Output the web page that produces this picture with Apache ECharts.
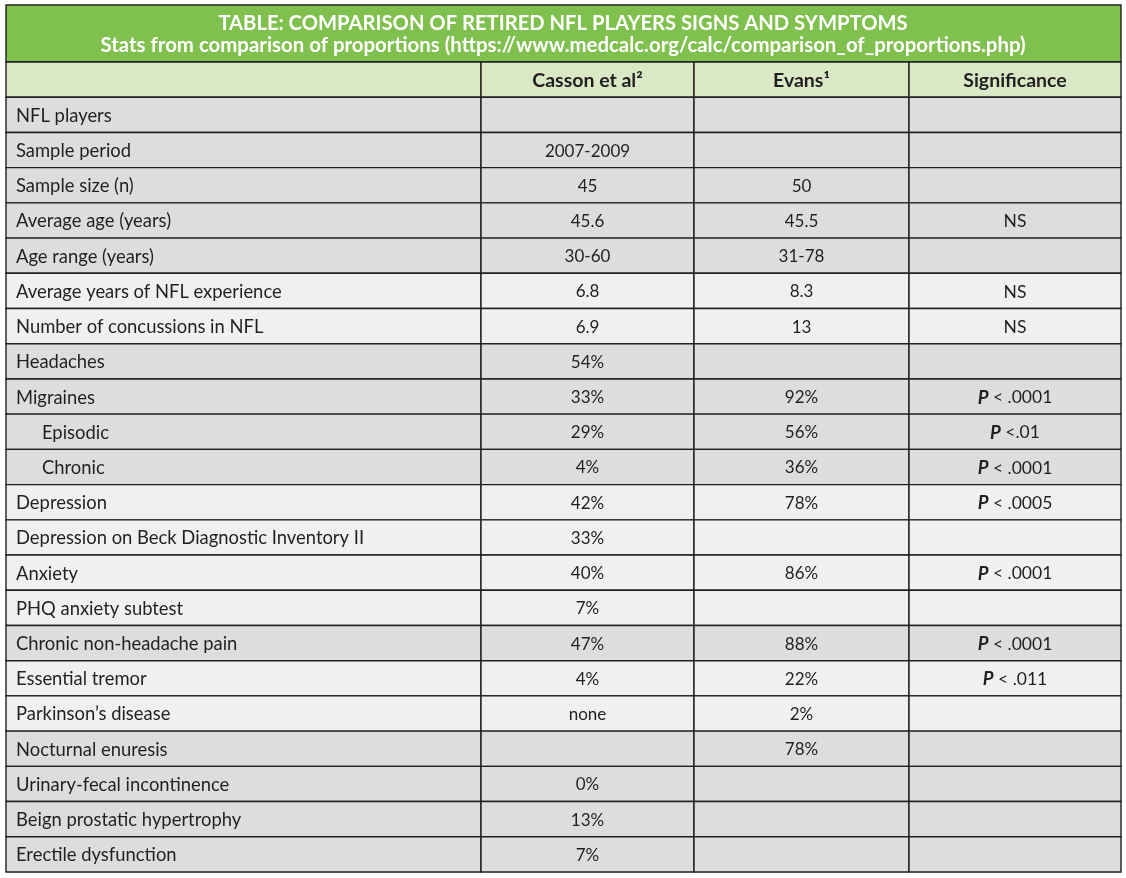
<!DOCTYPE html>
<html>
<head>
<meta charset="utf-8">
<script src="https://cdn.jsdelivr.net/npm/echarts@6/dist/echarts.min.js"></script>
<style>html,body{margin:0;padding:0;background:#fff;}#chart{width:1126px;height:878px;}</style>
</head>
<body>
<div id="chart"></div>
<script>
// ---- DATA ----
const titleText = 'TABLE: COMPARISON OF RETIRED NFL PLAYERS SIGNS AND SYMPTOMS';
const subtitleText = 'Stats from comparison of proportions (https://www.medcalc.org/calc/comparison_of_proportions.php)';
const columns = ['', 'Casson et al²', 'Evans¹', 'Significance'];
const rowLabels = [
  'NFL players', 'Sample period', 'Sample size (n)', 'Average age (years)', 'Age range (years)',
  'Average years of NFL experience', 'Number of concussions in NFL', 'Headaches', 'Migraines',
  'Episodic', 'Chronic', 'Depression', 'Depression on Beck Diagnostic Inventory II', 'Anxiety',
  'PHQ anxiety subtest', 'Chronic non-headache pain', 'Essential tremor', 'Parkinson\u2019s disease',
  'Nocturnal enuresis', 'Urinary-fecal incontinence', 'Beign prostatic hypertrophy', 'Erectile dysfunction'
];
const casson = ['', '2007-2009', '45', '45.6', '30-60', '6.8', '6.9', '54%', '33%', '29%', '4%', '42%', '33%', '40%', '7%', '47%', '4%', 'none', '', '0%', '13%', '7%'];
const evans = ['', '', '50', '45.5', '31-78', '8.3', '13', '', '92%', '56%', '36%', '78%', '', '86%', '', '88%', '22%', '2%', '78%', '', '', ''];
const significance = ['', '', '', 'NS', '', 'NS', 'NS', '', 'P < .0001', 'P <.01', 'P < .0001', 'P < .0005', '', 'P < .0001', '', 'P < .0001', 'P < .011', '', '', '', '', ''];
const subRows = ['Episodic', 'Chronic'];

// ---- LAYOUT / STYLE ----
const colEdges = [0, 475, 688, 903, 1115];
const shade = ['d','d','d','d','d','l','l','d','d','d','d','l','l','l','l','d','l','l','d','d','d','d'];
const C = { green: '#80c04e', header: '#d9e8c5', dark: '#dcdddf', light: '#eff0ef', line: '#231f20', text: '#231f20' };
const FONT = 'Lato';

const yCats = ['__header__'].concat(rowLabels);
const cells = [];
columns.forEach((t, c) => cells.push([c, 0, t]));
rowLabels.forEach((lab, i) => {
  const r = i + 1;
  cells.push([0, r, lab]);
  cells.push([1, r, casson[i]]);
  cells.push([2, r, evans[i]]);
  cells.push([3, r, significance[i]]);
});

function renderItem(params, api) {
  const c = api.value(0), r = api.value(1);
  const txt = cells[params.dataIndex][2];
  const p0 = api.coord([colEdges[c], r]);
  const p1 = api.coord([colEdges[c + 1], r]);
  const h = api.size([0, 1])[1];
  const y0 = p0[1] - h / 2;
  let fill;
  if (r === 0) fill = C.header;
  else fill = shade[r - 1] === 'd' ? C.dark : C.light;
  const children = [{
    type: 'rect',
    shape: { x: p0[0], y: y0, width: p1[0] - p0[0], height: h },
    style: { fill: fill, stroke: C.line, lineWidth: 1.4 }
  }];
  if (txt) {
    let tx, align;
    if (c === 0) { tx = p0[0] + (subRows.indexOf(txt) >= 0 ? 36 : 10); align = 'left'; }
    else { tx = (p0[0] + p1[0]) / 2; align = 'center'; }
    let text = txt;
    let fs = 17;
    if (r === 0) fs = 19.5;
    else if (c === 0) fs = 18.4;
    else if (c === 3) fs = 17.5;
    const style = {
      x: tx, y: p0[1] + 1, align: align, verticalAlign: 'middle',
      fontFamily: FONT, fontSize: fs, fill: C.text,
      fontWeight: r === 0 ? 'bold' : 'normal'
    };
    if (c === 3 && txt.charAt(0) === 'P') {
      text = '{p|P}' + txt.slice(1);
      style.rich = { p: { fontFamily: FONT, fontStyle: 'italic', fontWeight: 'bold', fontSize: 18.5, fill: C.text } };
    }
    style.text = text;
    children.push({ type: 'text', style: style, z2: 10 });
  }
  return { type: 'group', children: children };
}

const chart = echarts.init(document.getElementById('chart'), null, { renderer: 'canvas' });
chart.setOption({
  backgroundColor: '#ffffff',
  animation: false,
  title: {
    text: titleText,
    subtext: subtitleText,
    left: 'center',
    top: 8,
    itemGap: 2,
    textStyle: { color: '#ffffff', fontFamily: FONT, fontWeight: 'bold', fontSize: 20.2 },
    subtextStyle: { color: '#ffffff', fontFamily: FONT, fontWeight: 'bold', fontSize: 20.4 }
  },
  graphic: [{
    type: 'rect', z: -1,
    shape: { x: 6, y: 5, width: 1115, height: 57 },
    style: { fill: C.green, stroke: C.line, lineWidth: 1.4 }
  }],
  grid: { left: 6, right: 5, top: 62, bottom: 6 },
  xAxis: { type: 'value', min: 0, max: 1115, show: false },
  yAxis: { type: 'category', data: yCats, inverse: true, show: false },
  series: [{
    type: 'custom',
    renderItem: renderItem,
    encode: { x: 0, y: 1 },
    data: cells.map(d => [d[0], d[1]])
  }]
});
</script>
</body>
</html>
